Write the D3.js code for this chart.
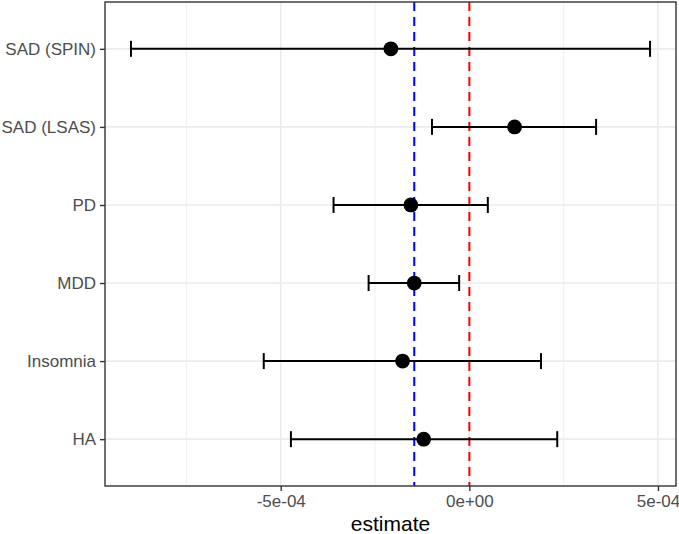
<!DOCTYPE html>
<html>
<head>
<meta charset="utf-8">
<script src="https://cdn.jsdelivr.net/npm/d3@7"></script>
<style>
  body { margin: 0; background: #fff; }
  svg { display: block; font-family: "Liberation Sans", Arial, sans-serif; }
</style>
</head>
<body>
<div id="chart"></div>
<script>
// categories from top to bottom
var outcomes = ["SAD (SPIN)", "SAD (LSAS)", "PD", "MDD", "Insomnia", "HA"];
var estimates = [-2.08e-4, 1.20e-4, -1.55e-4, -1.46e-4, -1.77e-4, -1.21e-4];
var lowers    = [-8.97e-4, -0.99e-4, -3.60e-4, -2.67e-4, -5.45e-4, -4.73e-4];
var uppers    = [ 4.79e-4, 3.36e-4,  0.49e-4, -0.27e-4,  1.90e-4,  2.33e-4];
var refLines  = [-1.46e-4, 0];
var refColors = ["blue", "red"];
var xMajor = [-5e-4, 0, 5e-4];
var xMajorLabels = ["-5e-04", "0e+00", "5e-04"];
var xMinor = [-7.5e-4, -2.5e-4, 2.5e-4];

var width = 679, height = 534;
var margin = {top: 2, right: 3, bottom: 48, left: 105};
var c_width = width - margin.left - margin.right;
var c_height = height - margin.top - margin.bottom;

var data = outcomes.map(function (d, i) {
    return {name: d, est: estimates[i], lo: lowers[i], hi: uppers[i]};
});

// ggplot style 5% expansion
var lo = d3.min(lowers), hi = d3.max(uppers);
var pad = (hi - lo) * 0.05;
var x = d3.scaleLinear().domain([lo - pad, hi + pad]).range([0, c_width]);
var y = d3.scalePoint().domain(outcomes).range([0, c_height]).padding(0.6);

var svg = d3.select("#chart").append("svg")
    .attr("width", width)
    .attr("height", height);

var g = svg.append("g").attr("transform", "translate(" + margin.left + "," + margin.top + ")");

// grid
g.selectAll(".minor").data(xMinor).enter().append("line")
    .attr("x1", function (d) { return x(d); }).attr("x2", function (d) { return x(d); })
    .attr("y1", 0).attr("y2", c_height)
    .attr("stroke", "#ebebeb").attr("stroke-width", 0.8);

g.selectAll(".majorx").data(xMajor).enter().append("line")
    .attr("x1", function (d) { return x(d); }).attr("x2", function (d) { return x(d); })
    .attr("y1", 0).attr("y2", c_height)
    .attr("stroke", "#ebebeb").attr("stroke-width", 1.6);

g.selectAll(".majory").data(outcomes).enter().append("line")
    .attr("x1", 0).attr("x2", c_width)
    .attr("y1", function (d) { return y(d); }).attr("y2", function (d) { return y(d); })
    .attr("stroke", "#ebebeb").attr("stroke-width", 1.6);

// reference lines
g.selectAll(".ref").data(refLines).enter().append("line")
    .attr("x1", function (d) { return x(d); }).attr("x2", function (d) { return x(d); })
    .attr("y1", 0).attr("y2", c_height)
    .attr("stroke", function (d, i) { return refColors[i]; })
    .attr("stroke-width", 2)
    .attr("stroke-dasharray", "9,6");

// error bars
var capH = 8;
var serie = g.selectAll(".serie").data(data).enter().append("g").attr("class", "serie");

serie.append("line")
    .attr("x1", function (d) { return x(d.lo); }).attr("x2", function (d) { return x(d.hi); })
    .attr("y1", function (d) { return y(d.name); }).attr("y2", function (d) { return y(d.name); })
    .attr("stroke", "#000").attr("stroke-width", 2);

serie.append("line")
    .attr("x1", function (d) { return x(d.lo); }).attr("x2", function (d) { return x(d.lo); })
    .attr("y1", function (d) { return y(d.name) - capH; }).attr("y2", function (d) { return y(d.name) + capH; })
    .attr("stroke", "#000").attr("stroke-width", 2);

serie.append("line")
    .attr("x1", function (d) { return x(d.hi); }).attr("x2", function (d) { return x(d.hi); })
    .attr("y1", function (d) { return y(d.name) - capH; }).attr("y2", function (d) { return y(d.name) + capH; })
    .attr("stroke", "#000").attr("stroke-width", 2);

serie.append("circle")
    .attr("cx", function (d) { return x(d.est); })
    .attr("cy", function (d) { return y(d.name); })
    .attr("r", 7.4)
    .attr("fill", "#000");

// panel border
g.append("rect")
    .attr("x", 0).attr("y", 0)
    .attr("width", c_width).attr("height", c_height)
    .attr("fill", "none").attr("stroke", "#333333").attr("stroke-width", 1.4);

/* AXIS */
var xaxis = g.append("g")
    .attr("transform", "translate(0," + c_height + ")")
    .call(d3.axisBottom(x).tickValues(xMajor)
        .tickFormat(function (d, i) { return xMajorLabels[i]; })
        .tickSize(5).tickPadding(4));

var yaxis = g.append("g")
    .call(d3.axisLeft(y).tickSize(5).tickPadding(4));

[xaxis, yaxis].forEach(function (a) {
    a.select(".domain").remove();
    a.selectAll(".tick line").attr("stroke", "#333333").attr("stroke-width", 1.4);
    a.selectAll(".tick text")
        .attr("fill", "#4d4d4d")
        .style("font-size", "17px")
        .style("font-family", "'Liberation Sans', Arial, sans-serif");
});

svg.append("text")
    .attr("x", margin.left + c_width / 2)
    .attr("y", 531)
    .attr("text-anchor", "middle")
    .style("font-size", "21px")
    .attr("fill", "#000")
    .text("estimate");
</script>
</body>
</html>
